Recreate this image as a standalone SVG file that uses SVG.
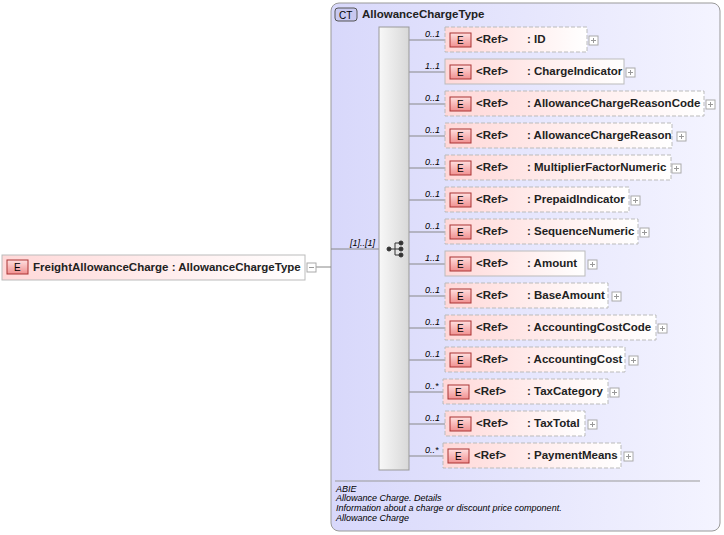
<svg xmlns="http://www.w3.org/2000/svg" xmlns:xlink="http://www.w3.org/1999/xlink" width="724" height="535" viewBox="0 0 724 535">
<defs>
<linearGradient id="ct" x1="0" y1="0" x2="1" y2="0"><stop offset="0" stop-color="#d8d8fb"/><stop offset="1" stop-color="#f4f4ff"/></linearGradient>
<linearGradient id="el" x1="0" y1="0" x2="1" y2="0"><stop offset="0" stop-color="#ffd8d8"/><stop offset="1" stop-color="#ffffff"/></linearGradient>
<linearGradient id="bar" x1="0" y1="0" x2="1" y2="0"><stop offset="0" stop-color="#f8f8f8"/><stop offset="1" stop-color="#d8d8d8"/></linearGradient>
<linearGradient id="eb" x1="0" y1="0" x2="0" y2="1"><stop offset="0" stop-color="#ffe0e0"/><stop offset="1" stop-color="#f09090"/></linearGradient>
<g id="plus"><rect x="0" y="0" width="9" height="9" fill="#fff" stroke="#aaa"/><path d="M2 4.5H7M4.5 2V7" stroke="#999"/></g>
</defs>
<style>
text{font-family:"Liberation Sans",Arial,sans-serif;fill:#000}
.t{font-size:11.5px;font-weight:bold;fill:#222}
.c{font-size:9px;font-style:italic}
.d{font-size:9px;font-style:italic}
.el{fill:url(#el);stroke:#bbb}
.opt{stroke-dasharray:4,2}
.eb{fill:url(#eb);stroke:#a33}
.ln{stroke:#888;fill:none}
</style>
<g id="ct-box">
<rect x="331" y="3" width="389" height="528" rx="8" fill="url(#ct)" stroke="#999"/>
<rect x="335" y="8" width="22" height="13" rx="3" fill="#c8c8f0" stroke="#555"/>
<text x="339" y="18.5" font-size="10" font-family="Liberation Sans">CT</text>
<text class="t" x="362" y="18">AllowanceChargeType</text>
<line x1="335" y1="481" x2="700" y2="481" stroke="#999"/>
<text class="d" x="336" y="492">ABIE</text>
<text class="d" x="336" y="501">Allowance Charge. Details</text>
<text class="d" x="336" y="511">Information about a charge or discount price component.</text>
<text class="d" x="336" y="521">Allowance Charge</text>
</g>
<g id="connectors">
<line class="ln" x1="316" y1="267" x2="331" y2="267"/>
<line class="ln" x1="331" y1="249" x2="379" y2="249"/>
<text class="c" x="350" y="246">[1]..[1]</text>
<g class="ln">
<line x1="409" y1="40" x2="445" y2="40"/><line x1="409" y1="72" x2="445" y2="72"/><line x1="409" y1="104" x2="445" y2="104"/><line x1="409" y1="136" x2="445" y2="136"/><line x1="409" y1="168" x2="445" y2="168"/><line x1="409" y1="200" x2="445" y2="200"/><line x1="409" y1="232" x2="445" y2="232"/><line x1="409" y1="264" x2="445" y2="264"/><line x1="409" y1="296" x2="445" y2="296"/><line x1="409" y1="328" x2="445" y2="328"/><line x1="409" y1="360" x2="445" y2="360"/><line x1="409" y1="392" x2="443" y2="392"/><line x1="409" y1="424" x2="445" y2="424"/><line x1="409" y1="456" x2="443" y2="456"/>
</g>
<g class="c">
<text x="425" y="37">0..1</text><text x="425" y="69">1..1</text><text x="425" y="101">0..1</text><text x="425" y="133">0..1</text><text x="425" y="165">0..1</text><text x="425" y="197">0..1</text><text x="425" y="229">0..1</text><text x="425" y="261">1..1</text><text x="425" y="293">0..1</text><text x="425" y="325">0..1</text><text x="425" y="357">0..1</text><text x="425" y="389">0..*</text><text x="425" y="421">0..1</text><text x="425" y="453">0..*</text>
</g>
</g>
<g id="sequence">
<rect x="379" y="27" width="30" height="443" fill="url(#bar)" stroke="#999"/>
<g stroke="#333" fill="#333">
<line x1="389" y1="249" x2="395" y2="249"/><line x1="395" y1="243" x2="395" y2="255"/>
<line x1="395" y1="243" x2="400" y2="243"/><line x1="395" y1="249" x2="400" y2="249"/><line x1="395" y1="255" x2="400" y2="255"/>
<circle cx="389" cy="249" r="2"/><circle cx="401" cy="243" r="2"/><circle cx="401" cy="249" r="2"/><circle cx="401" cy="255" r="2"/>
</g>
</g>
<g id="root">
<rect x="2" y="255" width="303" height="25" fill="url(#el)" stroke="#bbb"/>
<rect class="eb" x="7" y="260" width="21" height="14"/>
<text x="14" y="271" font-size="10">E</text>
<text class="t" x="33" y="271">FreightAllowanceCharge : AllowanceChargeType</text>
<rect x="307" y="263" width="9" height="9" fill="#fff" stroke="#aaa"/><line x1="309" y1="267.5" x2="314" y2="267.5" stroke="#999"/>
</g>
<g id="n1"><rect class="el opt" x="445" y="27" width="142" height="25"/><rect class="eb" x="450" y="33" width="21" height="14"/><text x="457" y="44" font-size="10">E</text><text class="t" x="476" y="43">&lt;Ref&gt;</text><text class="t" x="527" y="43">: ID</text><use xlink:href="#plus" x="589" y="36"/></g>
<g id="n2"><rect class="el" x="445" y="59" width="179" height="25"/><rect class="eb" x="450" y="65" width="21" height="14"/><text x="457" y="76" font-size="10">E</text><text class="t" x="476" y="75">&lt;Ref&gt;</text><text class="t" x="527" y="75">: ChargeIndicator</text><use xlink:href="#plus" x="626" y="68"/></g>
<g id="n3"><rect class="el opt" x="445" y="91" width="259" height="25"/><rect class="eb" x="450" y="97" width="21" height="14"/><text x="457" y="108" font-size="10">E</text><text class="t" x="476" y="107">&lt;Ref&gt;</text><text class="t" x="527" y="107">: AllowanceChargeReasonCode</text><use xlink:href="#plus" x="706" y="100"/></g>
<g id="n4"><rect class="el opt" x="445" y="123" width="227" height="25"/><rect class="eb" x="450" y="129" width="21" height="14"/><text x="457" y="140" font-size="10">E</text><text class="t" x="476" y="139">&lt;Ref&gt;</text><text class="t" x="527" y="139">: AllowanceChargeReason</text><use xlink:href="#plus" x="677" y="132"/></g>
<g id="n5"><rect class="el opt" x="445" y="155" width="226" height="25"/><rect class="eb" x="450" y="161" width="21" height="14"/><text x="457" y="172" font-size="10">E</text><text class="t" x="476" y="171">&lt;Ref&gt;</text><text class="t" x="527" y="171">: MultiplierFactorNumeric</text><use xlink:href="#plus" x="672" y="164"/></g>
<g id="n6"><rect class="el opt" x="445" y="187" width="184" height="25"/><rect class="eb" x="450" y="193" width="21" height="14"/><text x="457" y="204" font-size="10">E</text><text class="t" x="476" y="203">&lt;Ref&gt;</text><text class="t" x="527" y="203">: PrepaidIndicator</text><use xlink:href="#plus" x="631" y="196"/></g>
<g id="n7"><rect class="el opt" x="445" y="219" width="193" height="25"/><rect class="eb" x="450" y="225" width="21" height="14"/><text x="457" y="236" font-size="10">E</text><text class="t" x="476" y="235">&lt;Ref&gt;</text><text class="t" x="527" y="235">: SequenceNumeric</text><use xlink:href="#plus" x="640" y="228"/></g>
<g id="n8"><rect class="el" x="445" y="251" width="140" height="25"/><rect class="eb" x="450" y="257" width="21" height="14"/><text x="457" y="268" font-size="10">E</text><text class="t" x="476" y="267">&lt;Ref&gt;</text><text class="t" x="527" y="267">: Amount</text><use xlink:href="#plus" x="588" y="260"/></g>
<g id="n9"><rect class="el opt" x="445" y="283" width="163" height="25"/><rect class="eb" x="450" y="289" width="21" height="14"/><text x="457" y="300" font-size="10">E</text><text class="t" x="476" y="299">&lt;Ref&gt;</text><text class="t" x="527" y="299">: BaseAmount</text><use xlink:href="#plus" x="612" y="292"/></g>
<g id="n10"><rect class="el opt" x="445" y="315" width="211" height="25"/><rect class="eb" x="450" y="321" width="21" height="14"/><text x="457" y="332" font-size="10">E</text><text class="t" x="476" y="331">&lt;Ref&gt;</text><text class="t" x="527" y="331">: AccountingCostCode</text><use xlink:href="#plus" x="658" y="324"/></g>
<g id="n11"><rect class="el opt" x="445" y="347" width="180" height="25"/><rect class="eb" x="450" y="353" width="21" height="14"/><text x="457" y="364" font-size="10">E</text><text class="t" x="476" y="363">&lt;Ref&gt;</text><text class="t" x="527" y="363">: AccountingCost</text><use xlink:href="#plus" x="629" y="356"/></g>
<g id="n12"><rect class="el opt" x="443" y="379" width="165" height="25"/><rect class="eb" x="448" y="385" width="21" height="14"/><text x="455" y="396" font-size="10">E</text><text class="t" x="474" y="395">&lt;Ref&gt;</text><text class="t" x="527" y="395">: TaxCategory</text><use xlink:href="#plus" x="610" y="388"/></g>
<g id="n13"><rect class="el opt" x="445" y="411" width="140" height="25"/><rect class="eb" x="450" y="417" width="21" height="14"/><text x="457" y="428" font-size="10">E</text><text class="t" x="476" y="427">&lt;Ref&gt;</text><text class="t" x="527" y="427">: TaxTotal</text><use xlink:href="#plus" x="588" y="420"/></g>
<g id="n14"><rect class="el opt" x="443" y="443" width="178" height="25"/><rect class="eb" x="448" y="449" width="21" height="14"/><text x="455" y="460" font-size="10">E</text><text class="t" x="474" y="459">&lt;Ref&gt;</text><text class="t" x="527" y="459">: PaymentMeans</text><use xlink:href="#plus" x="624" y="452"/></g>
</svg>
